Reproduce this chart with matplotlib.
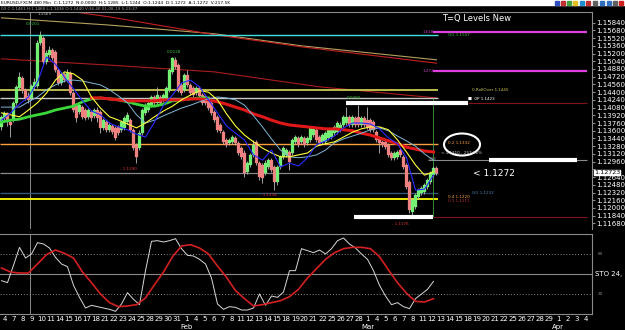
import matplotlib
matplotlib.use("Agg")
import matplotlib.pyplot as plt
from matplotlib.patches import Ellipse, Rectangle
import numpy as np

# ================================
# DATA (Jan 3 -> Mar 12 2019)
# ================================
opens = [1.1368, 1.1386, 1.1397, 1.1378, 1.1382, 1.1418, 1.1449, 1.1469, 1.1445, 1.1432,
         1.1428, 1.1451, 1.1453, 1.1542, 1.1552, 1.1502, 1.1517, 1.1527, 1.1523, 1.1486,
         1.1459, 1.1478, 1.1465, 1.1480, 1.1438, 1.1413, 1.1399, 1.1409, 1.1403, 1.1389,
         1.1399, 1.1391, 1.1403, 1.1399, 1.1366, 1.1378, 1.1362, 1.1370, 1.1366, 1.1368,
         1.1362, 1.1366, 1.1378, 1.1382, 1.1362, 1.1331, 1.1324, 1.1355, 1.1397, 1.1403,
         1.1413, 1.1430, 1.1418, 1.1430, 1.1424, 1.1428, 1.1445, 1.1482, 1.1507, 1.1496,
         1.1455, 1.1445, 1.1475, 1.1455, 1.1449, 1.1438, 1.1449, 1.1434, 1.1432, 1.1424,
         1.1418, 1.1399, 1.1389, 1.1372, 1.1357, 1.1341, 1.1335, 1.1337, 1.1345, 1.1335,
         1.1324, 1.1314, 1.1275, 1.1289, 1.1310, 1.1337, 1.1293, 1.1289, 1.1272, 1.1285,
         1.1299, 1.1285, 1.1254, 1.1285, 1.1306, 1.1310, 1.1316, 1.1314, 1.1337, 1.1345,
         1.1337, 1.1345, 1.1335, 1.1341, 1.1351, 1.1362, 1.1347, 1.1337, 1.1337, 1.1345,
         1.1347, 1.1355, 1.1357, 1.1362, 1.1372, 1.1376, 1.1389, 1.1372, 1.1386, 1.1389,
         1.1372, 1.1386, 1.1382, 1.1382, 1.1378, 1.1357, 1.1345, 1.1337, 1.1337, 1.1331,
         1.1314, 1.1304, 1.1306, 1.1320, 1.1306, 1.1289, 1.1254, 1.1192, 1.1202, 1.1223,
         1.1231, 1.1233, 1.1243, 1.1254, 1.1268, 1.1283]
highs = [1.1393, 1.1401, 1.1399, 1.1382, 1.1422, 1.1455, 1.1482, 1.1473, 1.1449, 1.1440,
         1.1457, 1.1469, 1.1548, 1.1567, 1.1556, 1.1527, 1.1536, 1.1532, 1.1527, 1.1490,
         1.1482, 1.1482, 1.1488, 1.1484, 1.1443, 1.1418, 1.1418, 1.1413, 1.1407, 1.1407,
         1.1403, 1.1407, 1.1409, 1.1403, 1.1386, 1.1382, 1.1378, 1.1374, 1.1370, 1.1372,
         1.1382, 1.1391, 1.1399, 1.1386, 1.1366, 1.1335, 1.1362, 1.1407, 1.1418, 1.1422,
         1.1434, 1.1434, 1.1451, 1.1434, 1.1438, 1.1453, 1.1490, 1.1513, 1.1513, 1.1500,
         1.1459, 1.1480, 1.1486, 1.1459, 1.1453, 1.1453, 1.1453, 1.1438, 1.1436, 1.1428,
         1.1422, 1.1403, 1.1393, 1.1376, 1.1362, 1.1345, 1.1345, 1.1351, 1.1349, 1.1339,
         1.1328, 1.1320, 1.1297, 1.1314, 1.1341, 1.1341, 1.1297, 1.1293, 1.1299, 1.1304,
         1.1304, 1.1289, 1.1289, 1.1310, 1.1328, 1.1324, 1.1320, 1.1345, 1.1351, 1.1349,
         1.1351, 1.1349, 1.1349, 1.1370, 1.1370, 1.1366, 1.1351, 1.1355, 1.1360, 1.1366,
         1.1366, 1.1372, 1.1380, 1.1378, 1.1393, 1.1409, 1.1393, 1.1393, 1.1391, 1.1413,
         1.1391, 1.1391, 1.1409, 1.1386, 1.1382, 1.1362, 1.1349, 1.1341, 1.1341, 1.1335,
         1.1318, 1.1318, 1.1320, 1.1324, 1.1310, 1.1293, 1.1258, 1.1221, 1.1231, 1.1241,
         1.1246, 1.1252, 1.1262, 1.1277, 1.1287, 1.1287]
lows = [1.1362, 1.1382, 1.1370, 1.1347, 1.1378, 1.1413, 1.1445, 1.1438, 1.1424, 1.1418,
        1.1424, 1.1445, 1.1449, 1.1538, 1.1498, 1.1498, 1.1513, 1.1507, 1.1482, 1.1455,
        1.1455, 1.1461, 1.1461, 1.1434, 1.1399, 1.1378, 1.1395, 1.1384, 1.1382, 1.1384,
        1.1380, 1.1386, 1.1378, 1.1355, 1.1362, 1.1357, 1.1357, 1.1353, 1.1341, 1.1351,
        1.1357, 1.1362, 1.1374, 1.1357, 1.1320, 1.1293, 1.1320, 1.1351, 1.1393, 1.1399,
        1.1409, 1.1413, 1.1413, 1.1413, 1.1420, 1.1424, 1.1440, 1.1478, 1.1488, 1.1440,
        1.1434, 1.1440, 1.1451, 1.1434, 1.1430, 1.1434, 1.1428, 1.1413, 1.1413, 1.1403,
        1.1393, 1.1378, 1.1357, 1.1355, 1.1333, 1.1326, 1.1331, 1.1333, 1.1331, 1.1310,
        1.1302, 1.1264, 1.1270, 1.1285, 1.1306, 1.1289, 1.1258, 1.1252, 1.1268, 1.1281,
        1.1275, 1.1237, 1.1248, 1.1281, 1.1302, 1.1306, 1.1279, 1.1310, 1.1333, 1.1326,
        1.1333, 1.1326, 1.1331, 1.1337, 1.1347, 1.1337, 1.1331, 1.1333, 1.1333, 1.1341,
        1.1343, 1.1351, 1.1353, 1.1357, 1.1368, 1.1372, 1.1368, 1.1368, 1.1368, 1.1368,
        1.1368, 1.1368, 1.1364, 1.1357, 1.1357, 1.1337, 1.1314, 1.1326, 1.1322, 1.1306,
        1.1299, 1.1299, 1.1302, 1.1306, 1.1281, 1.1239, 1.1190, 1.1185, 1.1198, 1.1219,
        1.1227, 1.1229, 1.1239, 1.1250, 1.1264, 1.1268]
closes = [1.1389, 1.1397, 1.1378, 1.1372, 1.1418, 1.1451, 1.1471, 1.1445, 1.1428, 1.1424,
          1.1453, 1.1461, 1.1542, 1.1559, 1.1502, 1.1521, 1.1527, 1.1511, 1.1486, 1.1459,
          1.1478, 1.1465, 1.1480, 1.1438, 1.1403, 1.1386, 1.1413, 1.1389, 1.1386, 1.1403,
          1.1386, 1.1403, 1.1386, 1.1366, 1.1382, 1.1362, 1.1372, 1.1357, 1.1345, 1.1355,
          1.1378, 1.1386, 1.1393, 1.1362, 1.1324, 1.1306, 1.1355, 1.1403, 1.1413, 1.1418,
          1.1430, 1.1418, 1.1434, 1.1418, 1.1434, 1.1449, 1.1486, 1.1511, 1.1492, 1.1445,
          1.1438, 1.1475, 1.1455, 1.1438, 1.1434, 1.1449, 1.1432, 1.1418, 1.1418, 1.1407,
          1.1397, 1.1382, 1.1362, 1.1360, 1.1337, 1.1331, 1.1341, 1.1347, 1.1335, 1.1314,
          1.1306, 1.1272, 1.1293, 1.1310, 1.1331, 1.1293, 1.1264, 1.1262, 1.1293, 1.1299,
          1.1279, 1.1254, 1.1285, 1.1306, 1.1324, 1.1320, 1.1295, 1.1341, 1.1347, 1.1331,
          1.1347, 1.1331, 1.1345, 1.1366, 1.1366, 1.1341, 1.1335, 1.1351, 1.1355, 1.1362,
          1.1362, 1.1368, 1.1376, 1.1372, 1.1389, 1.1389, 1.1372, 1.1389, 1.1372, 1.1372,
          1.1386, 1.1372, 1.1368, 1.1362, 1.1362, 1.1341, 1.1335, 1.1331, 1.1326, 1.1310,
          1.1304, 1.1314, 1.1316, 1.1310, 1.1285, 1.1243, 1.1196, 1.1217, 1.1227, 1.1237,
          1.1241, 1.1248, 1.1258, 1.1272, 1.1283, 1.1272]

# moving averages, one value every 3 bars (one day)
ma_fast = [1.1382, 1.1397, 1.1415, 1.1430, 1.1461, 1.1513, 1.1498, 1.1471, 1.1447, 1.1422,
           1.1401, 1.1393, 1.1376, 1.1368, 1.1362, 1.1353, 1.1347, 1.1378, 1.1413, 1.1434,
           1.1459, 1.1465, 1.1451, 1.1424, 1.1397, 1.1370, 1.1355, 1.1341, 1.1310, 1.1299,
           1.1320, 1.1285, 1.1293, 1.1287, 1.1304, 1.1331, 1.1339, 1.1349, 1.1366, 1.1376,
           1.1376, 1.1374, 1.1364, 1.1345, 1.1333, 1.1304, 1.1237, 1.1239, 1.1268]
ma_mid = [1.1397, 1.1393, 1.1389, 1.1403, 1.1418, 1.1438, 1.1465, 1.1482, 1.1478, 1.1465,
          1.1430, 1.1407, 1.1389, 1.1382, 1.1374, 1.1366, 1.1376, 1.1389, 1.1401, 1.1411,
          1.1424, 1.1434, 1.1443, 1.1440, 1.1424, 1.1395, 1.1370, 1.1351, 1.1337, 1.1324,
          1.1314, 1.1306, 1.1306, 1.1310, 1.1314, 1.1328, 1.1333, 1.1337, 1.1347, 1.1357,
          1.1364, 1.1368, 1.1368, 1.1362, 1.1341, 1.1316, 1.1289, 1.1268, 1.1275]
ma_slow = [1.1409, 1.1409, 1.1409, 1.1420, 1.1430, 1.1445, 1.1455, 1.1463, 1.1465, 1.1463,
           1.1459, 1.1455, 1.1445, 1.1432, 1.1418, 1.1393, 1.1376, 1.1382, 1.1391, 1.1399,
           1.1407, 1.1413, 1.1420, 1.1426, 1.1430, 1.1428, 1.1424, 1.1413, 1.1391, 1.1368,
           1.1343, 1.1320, 1.1306, 1.1304, 1.1306, 1.1310, 1.1320, 1.1335, 1.1343, 1.1349,
           1.1355, 1.1362, 1.1366, 1.1360, 1.1349, 1.1339, 1.1328, 1.1312, 1.1299]
ma_green = [1.1378, 1.1382, 1.1384, 1.1389, 1.1393, 1.1397, 1.1403, 1.1407, 1.1411, 1.1420,
            1.1426, 1.1428, 1.1426, 1.1424, 1.1420, 1.1415, 1.1411, 1.1411, 1.1415, 1.1422,
            1.1424, 1.1426, 1.1428, 1.1428]
ma_red_start = 30
ma_red = [1.1428, 1.1428, 1.1426, 1.1424, 1.1422, 1.1422, 1.1422, 1.1422, 1.1424, 1.1424,
          1.1424, 1.1426, 1.1426, 1.1424, 1.1420, 1.1415, 1.1409, 1.1403, 1.1395, 1.1389,
          1.1382, 1.1376, 1.1372, 1.1370, 1.1368, 1.1366, 1.1364, 1.1364, 1.1362, 1.1360,
          1.1355, 1.1351, 1.1345, 1.1339, 1.1333, 1.1326, 1.1322, 1.1318, 1.1316]

# long averages at the top (bar index, price)
long_tan_bars = [0, 36, 71, 100, 145]
long_tan = [1.1594, 1.1579, 1.1561, 1.1536, 1.1507]
long_red_bars = [20, 36, 71, 100, 145]
long_red = [1.1610, 1.1596, 1.1559, 1.1534, 1.1500]
long_dred_bars = [0, 36, 71, 106, 145]
long_dred = [1.1509, 1.1496, 1.1482, 1.1451, 1.1428]

# stochastic: %K every 2 bars, %D every 3 bars
sto_k = [40, 37, 63, 90, 74, 80, 97, 95, 89, 75, 65, 61, 33, 15, -1, 3, 1, -1, -3, -6,
         5, 22, 12, 4, 55, 99, 100, 98, 100, 103, 88, 78, 77, 72, 65, 44, 5, -3, 1, 0,
         -4, -4, -1, 20, 3, 17, 15, 23, 55, 55, 88, 85, 82, 86, 80, 88, 100, 104, 95, 89,
         80, 72, 55, 33, 17, 4, 7, 1, -2, 13, 20, 27, 39]
sto_d = [59, 53, 51.5, 51.5, 65, 79, 86, 81, 74, 53, 37, 20, 7, 1, 2, 4, 14, 34, 53, 76,
         92, 94, 89, 80, 62, 45, 25, 13, 2, 4, 7, 10, 16, 27, 44, 58, 72, 82, 88, 90,
         90, 88, 76, 56, 37, 21, 9, 8, 13]

day_labels = ["4", "7", "8", "9", "10", "11", "14", "15", "16", "17", "18", "21", "22", "23",
              "24", "25", "28", "29", "30", "31",
              "1", "4", "5", "6", "7", "8", "11", "12", "13", "14", "15", "18", "19", "20",
              "21", "22", "25", "26", "27", "28",
              "1", "4", "5", "6", "7", "8", "11", "12", "13", "14", "15", "18", "19", "20",
              "21", "22", "25", "26", "27", "28", "29",
              "1", "2", "3", "4"]
month_labels = ["Feb", "Mar", "Apr"]
month_index = [20, 40, 61]

price_ticks = [1.15840, 1.15680, 1.15520, 1.15360, 1.15200, 1.15040, 1.14880, 1.14720,
               1.14560, 1.14400, 1.14240, 1.14080, 1.13920, 1.13760, 1.13600, 1.13440,
               1.13280, 1.13120, 1.12960, 1.12800, 1.12640, 1.12480, 1.12320, 1.12160,
               1.12000, 1.11840, 1.11680]
hidden_tick = 1.12800   # covered by the last-price box
last_price = 1.1272

# levels drawn by the T=Q indicator
lvl_cyan = 1.1558
lvl_fib1618 = 1.1564
lvl_fib1272 = 1.1483
lvl_rollover = 1.14445
lvl_op = 1.1427
lvl_top_bar = 1.1418
lvl_orange = 1.1332
lvl_386 = 1.1299
lvl_last = 1.1272
lvl_blue = 1.1232
lvl_yellow = 1.1219
lvl_bottom = 1.1181

# ================================
# FIGURE
# ================================
W, H = 625, 330
BG = "black"
GRAY = "#8a8a8a"
UP = "#74f074"
DOWN = "#f08282"


def fx(px):
    return px / W


def fy(py):
    return 1 - py / H


def bx(px):
    # pixel column -> bar index (about 3 px per 480 min bar)
    return (px - 1.5) / 3.0


fig = plt.figure(figsize=(6.25, 3.3), dpi=100, facecolor=BG)
ax = fig.add_axes([0, fy(229), fx(592), (229 - 12) / H], facecolor=BG)
sto = fig.add_axes([0, fy(314), fx(592), (314 - 234) / H], facecolor=BG, sharex=ax)

# ---- candles
k = np.arange(len(closes))
o, h, l, c = map(np.array, (opens, highs, lows, closes))
col = np.where(c >= o, UP, DOWN)
ax.vlines(k, l, h, color="#b8b8b8", lw=0.6, zorder=3)
ax.bar(k, np.maximum(np.abs(c - o), 0.00005), bottom=np.minimum(o, c), width=0.72,
       color=col, edgecolor=col, lw=0.2, zorder=4)

# ---- averages
day_bars = np.arange(len(ma_fast)) * 3
ax.plot(np.arange(len(ma_green)) * 3, ma_green, color="#3ad83a", lw=2.0, zorder=5)
ax.plot(ma_red_start + np.arange(len(ma_red)) * 3, ma_red, color="#e01818", lw=2.2, zorder=5)
ax.plot(day_bars, ma_slow, color="#7fb8d8", lw=0.7, zorder=6)
ax.plot(day_bars, ma_mid, color="#ffff3c", lw=0.8, zorder=6)
ax.plot(day_bars, ma_fast, color="#2a2aff", lw=0.8, zorder=6)
ax.plot(long_tan_bars, long_tan, color="#b4a060", lw=0.8, zorder=2)
ax.plot(long_red_bars, long_red, color="#c42020", lw=0.8, zorder=2)
ax.plot(long_dred_bars, long_dred, color="#a81c1c", lw=0.8, zorder=2)

# ---- horizontal levels
x0, x1 = bx(0), bx(438)
xr0, xr1 = bx(433), bx(587)
ax.hlines(lvl_cyan, x0, x1, color="#40e0e0", lw=1.0, zorder=2)
ax.hlines([lvl_fib1618, lvl_fib1272], bx(433), bx(587), color="#e040e0", lw=1.6, zorder=2)
ax.hlines(lvl_rollover, x0, x1, color="#c8c850", lw=1.3, zorder=2)
ax.hlines(lvl_op, x0, x1, color="#c8c8c8", lw=1.0, zorder=2)
ax.hlines(lvl_top_bar, bx(346), bx(468), color="white", lw=3.0, zorder=7)
ax.hlines(lvl_top_bar, bx(468), xr1, color="#801414", lw=0.8, zorder=2)
ax.hlines(lvl_orange, x0, x1, color="#ffa040", lw=1.0, zorder=2)
ax.hlines(lvl_386, bx(428), xr1, color=GRAY, lw=0.8, zorder=2)
ax.hlines(lvl_386, bx(489), bx(577), color="white", lw=3.0, zorder=7)
ax.hlines(lvl_last, x0, x1, color=GRAY, lw=0.9, zorder=2)
ax.hlines(lvl_blue, x0, x1, color="#30587a", lw=1.0, zorder=2)
ax.hlines(lvl_yellow, x0, x1, color="#ffff00", lw=1.3, zorder=2)
ax.hlines(lvl_bottom, bx(354), bx(433), color="white", lw=3.0, zorder=7)
ax.hlines(lvl_bottom, xr0, xr1, color="#801414", lw=0.8, zorder=2)

ax.axvline(bx(30), color="#a0a0a0", lw=0.6, zorder=1)
sto.axvline(bx(30), color="#a0a0a0", lw=0.6, zorder=1)
ax.vlines(bx(433), lvl_bottom, lvl_op, color="#40a040", lw=0.6, zorder=2)

ax.add_patch(Ellipse((bx(462), 1.13315), 12, 0.00456, fill=False, ec="white", lw=1.5, zorder=8))

# ---- small labels
tiny = dict(fontsize=3, va="center", ha="left", zorder=9)
ax.text(bx(423), lvl_fib1618, "1.618", color="#c040c0", **tiny)
ax.text(bx(423), lvl_fib1272, "1.272", color="#c040c0", **tiny)
ax.text(bx(448), lvl_cyan, "GG 1.1557", color="#40c040", **tiny)
ax.text(bx(472), lvl_rollover, "0.RollOver 1.1445", color="#c8c850", **tiny)
ax.text(bx(468), lvl_op, "\u25a0  0P 1.1423", color="white", **tiny)
ax.text(bx(448), lvl_orange + 0.0003, "0.2 1.1332", color="#ffa040", **tiny)
ax.text(bx(441), 1.1314, "< 1.1310 - 257.86%", color="#d0d0d0", **tiny)
ax.text(bx(428), 1.1301, ".386", color=GRAY, **tiny)
ax.text(bx(472), lvl_blue, "GG 1.1232", color="#4a80b0", **tiny)
ax.text(bx(448), lvl_yellow + 0.0003, "0.4 1.1220", color="#ffa040", **tiny)
ax.text(bx(448), lvl_yellow - 0.0005, "0.1 1.1211", color="#c03030", **tiny)
ax.text(bx(392), 1.1167, "- 1.1176", color="#e03030", **tiny)
ax.text(bx(120), 1.1281, "- 1.1290", color="#e03030", **tiny)
ax.text(bx(260), 1.1227, "- 1.1234", color="#e03030", **tiny)
ax.text(bx(26), 1.1581, "0.0201", color="#40c040", **tiny)
ax.text(bx(38), 1.1601, "1.1569", color="#c0c0c0", **tiny)
ax.text(bx(167), 1.1523, "0.0228", color="#40c040", **tiny)
ax.text(bx(347), 1.1428, "0.0080", color="#40c040", **tiny)
ax.text(bx(473), lvl_last, "< 1.1272", color="white", fontsize=6.5, va="center",
        ha="left", zorder=9)

ax.set_xlim(bx(0), bx(592))
ax.set_ylim(1.11564, 1.16061)
ax.yaxis.tick_right()
ax.set_yticks(price_ticks)
ax.set_yticklabels(["" if v == hidden_tick else f"{v:.5f}" for v in price_ticks])
ax.tick_params(axis="y", colors=GRAY, labelcolor="white", labelsize=5, length=2, pad=1)
ax.tick_params(axis="x", bottom=False, labelbottom=False)
for s in ("left", "bottom"):
    ax.spines[s].set_visible(False)
for s in ("top", "right"):
    ax.spines[s].set_color(GRAY)
    ax.spines[s].set_linewidth(0.8)

ax.text(1.003, last_price + 0.00008, "1.12723", transform=ax.get_yaxis_transform(),
        fontsize=4.6, color="black", va="center", ha="left", zorder=10, clip_on=False,
        bbox=dict(boxstyle="square,pad=0.02", fc="white", ec="white"))

# ---- stochastic pane
sto.plot(np.arange(len(sto_k)) * 2, sto_k, color="#d8d8d8", lw=0.7, zorder=4)
sto.plot(np.arange(len(sto_d)) * 3, sto_d, color="#d42020", lw=1.2, zorder=5)
sto.axhline(80, color=GRAY, lw=0.7, ls=(0, (1, 2)))
sto.axhline(20, color=GRAY, lw=0.7, ls=(0, (1, 2)))
sto.axhline(50, color=GRAY, lw=0.8)
sto.set_ylim(-10, 110)
sto.set_yticks([])
for s in ("top", "bottom", "right"):
    sto.spines[s].set_color(GRAY)
    sto.spines[s].set_linewidth(0.8)
sto.spines["left"].set_visible(False)

tick_pos = [bx(5) + i * 9.07 / 3 for i in range(len(day_labels))]
sto.set_xticks(tick_pos)
sto.set_xticklabels(day_labels)
sto.tick_params(axis="x", length=0, pad=1.5, labelsize=5, labelcolor="white")
for name, i in zip(month_labels, month_index):
    sto.text(tick_pos[i], -0.165, name, transform=sto.get_xaxis_transform(), fontsize=5,
             color="white", ha="center", va="center", clip_on=False)

fig.text(fx(595), fy(274), "STO 24,", color="white", fontsize=5, va="center")
fig.text(fx(598), fy(254), "80", color=GRAY, fontsize=3, va="center")
fig.text(fx(598), fy(294), "20", color=GRAY, fontsize=3, va="center")

# ---- header
fig.patches.append(Rectangle((0, fy(5)), 1, 5 / H, transform=fig.transFigure,
                             color="white", zorder=0))
fig.text(fx(1), fy(2.5),
         "EURUSD,FXCM 480 Min  C:1.1272  N:0.0000  H:1.1285  L:1.1244  O:1.1244  "
         "D:1.1272  A:1.1272  V:217.5K", fontsize=3.2, color="black", va="center")
fig.text(fx(1), fy(8.5),
         "03 C:1.1461 H:1.1466 L:1.1436 O:1.1440 V:36.4K 01-08-19 5:23:37",
         fontsize=3, color="#a0a0a0", va="center")
for px, cc in zip([555, 561, 567, 573, 580, 586, 593, 600, 607, 613, 619],
                  ["#3050c0", "#c03030", "#40a040", "#e0c020", "#2090d0", "#c03030",
                   "#606060", "#3070c0", "#3070c0", "#606060", "#d02020"]):
    fig.patches.append(Rectangle((fx(px), fy(4.5)), fx(4), 3.5 / H,
                                 transform=fig.transFigure, color=cc, zorder=1))
fig.text(fx(442), fy(18), "T=Q Levels New", color="white", fontsize=6, va="center")

fig.savefig("out.png", dpi=100, facecolor=BG)
